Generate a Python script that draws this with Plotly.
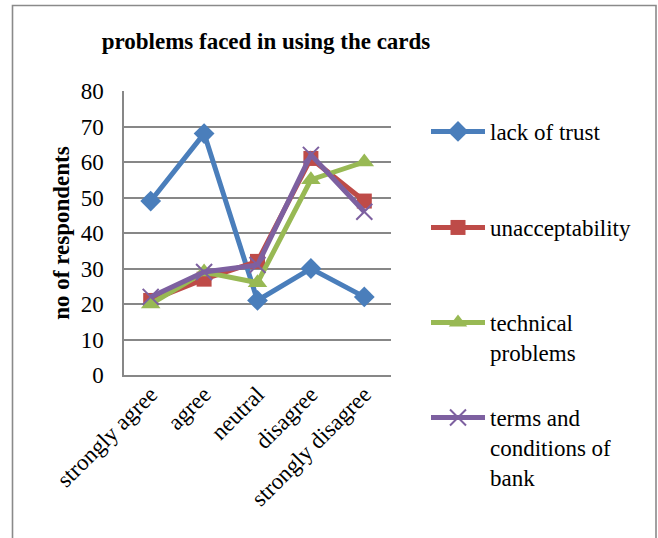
import plotly.graph_objects as go

# Survey responses: problems faced in using the cards
categories = ["strongly agree", "agree", "neutral", "disagree", "strongly disagree"]
lack_of_trust = [49, 68, 21, 30, 22]
unacceptability = [21, 27, 32, 61, 49]
technical_problems = [20, 29, 26, 55, 60]
terms_and_conditions = [22, 29, 31, 62, 46]

series_names = ["lack of trust", "unacceptability", "technical<br>problems",
                "terms and<br>conditions of<br>bank"]
series_values = [lack_of_trust, unacceptability, technical_problems, terms_and_conditions]
colors = ["#4A7EBB", "#BE4B48", "#98B954", "#7D60A0"]
symbols = ["diamond", "square", "triangle-up", "x-thin"]
marker_sizes = [16, 15, 17, 16]
legend_ids = ["legend", "legend2", "legend3", "legend4"]

FONT = "Liberation Serif, Times New Roman, serif"
GRID = "#878787"

# plot area in pixels: x 124..391, y 91..375
L, R, T, B = 124, 658 - 391, 91, 538 - 375
PW, PH = 391 - 124, 375 - 91


def px_to_paper_x(px):
    return (px - L) / PW


def px_to_paper_y(py):
    return (375 - py) / PH


fig = go.Figure()
for name, vals, col, sym, ms, lg in zip(series_names, series_values, colors,
                                        symbols, marker_sizes, legend_ids):
    marker = dict(symbol=sym, size=ms, color=col)
    if sym == "x-thin":
        marker["line"] = dict(color=col, width=2)
    fig.add_trace(go.Scatter(
        x=categories, y=vals, name=name, mode="lines+markers",
        line=dict(color=col, width=5),
        marker=marker, legend=lg, cliponaxis=False,
    ))

legend_rows = [130, 226, 321, 416]
legend_common = dict(font=dict(family=FONT, size=23, color="#000000"),
                     bgcolor="rgba(0,0,0,0)", valign="top",
                     xanchor="left", yanchor="top", itemwidth=54)
layout_legends = {}
for lg, row in zip(legend_ids, legend_rows):
    layout_legends[lg] = dict(legend_common, x=px_to_paper_x(426),
                              y=px_to_paper_y(row - 20))

fig.update_layout(
    width=658, height=538,
    margin=dict(l=L, r=R, t=T, b=B),
    paper_bgcolor="white", plot_bgcolor="white",
    font=dict(family=FONT, size=22, color="#000000"),
    title=dict(text="<b>problems faced in using the cards</b>",
               font=dict(family=FONT, size=23, color="#000000"),
               x=px_to_paper_x(266), xref="paper", xanchor="center",
               y=1 - 41 / 538, yref="container", yanchor="middle"),
    showlegend=True,
    **layout_legends,
)

fig.update_xaxes(
    type="category", range=[-0.5, 4.5], tickangle=-45,
    showgrid=False, showline=True, linecolor=GRID, linewidth=1.5,
    ticks="", ticklabelstandoff=-5,
    tickfont=dict(family=FONT, size=23, color="#000000"),
)
fig.update_yaxes(
    range=[0, 80], dtick=10, showgrid=True, gridcolor=GRID, gridwidth=1.5,
    showline=True, linecolor=GRID, linewidth=1.5, zeroline=False,
    ticks="", ticklabelstandoff=14,
    tickfont=dict(family=FONT, size=23, color="#000000"),
    title=dict(text="<b>no of respondents</b>",
               font=dict(family=FONT, size=23, color="#000000"), standoff=5),
)

# outer chart frame
fig.add_shape(type="rect", xref="paper", yref="paper",
              x0=px_to_paper_x(12.5), x1=px_to_paper_x(656),
              y0=px_to_paper_y(560), y1=px_to_paper_y(5.5),
              line=dict(color="#8A8A8A", width=1.6), fillcolor="rgba(0,0,0,0)",
              layer="below")

fig.write_html("out.html")
